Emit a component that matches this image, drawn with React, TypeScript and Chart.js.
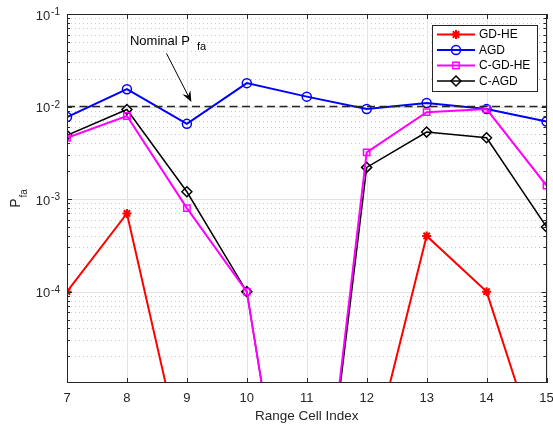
import React, { useEffect, useRef } from "react";
import { Chart, registerables } from "chart.js";

Chart.register(...registerables);

// ---------- data ----------
const rangeCells = [7, 8, 9, 10, 11, 12, 13, 14, 15];
const gdHe = [1e-4, 7e-4, 1e-6, 1e-6, 1e-6, 1e-6, 4e-4, 1e-4, 1e-6];
const agd = [7.7e-3, 1.54e-2, 6.5e-3, 1.79e-2, 1.28e-2, 9.4e-3, 1.09e-2, 9.4e-3, 6.9e-3];
const cGdHe = [4.6e-3, 7.9e-3, 8.0e-4, 1e-4, 1e-8, 3.2e-3, 8.7e-3, 9.4e-3, 1.4e-3];
const cAgd = [4.9e-3, 9.3e-3, 1.2e-3, 1e-4, 1e-8, 2.2e-3, 5.3e-3, 4.6e-3, 5e-4];

const seriesLabels = ["GD-HE", "AGD", "C-GD-HE", "C-AGD"];
const seriesColors = ["#ff0000", "#0000ff", "#ff00ff", "#000000"];
const seriesMarkers = ["star", "circle", "rect", "rectRot"];
const seriesValues = [gdHe, agd, cGdHe, cAgd];
const seriesDrawOrder = [4, 3, 1, 2];

const nominalPfa = 1e-2;
const xMin = 7;
const xMax = 15;
const yMin = 1.03e-5;
const yMax = 1e-1;
const xTickValues = [7, 8, 9, 10, 11, 12, 13, 14, 15];
const yDecadeExponents = [-5, -4, -3, -2, -1];

const annotTextAt = { x: 8.05, y: 0.0457 };
const arrowFrom = { x: 8.66, y: 0.0375 };
const arrowTo = { x: 9.075, y: 0.0112 };

// ---------- styling ----------
const FONT = '"Liberation Sans", Arial, Helvetica, sans-serif';
const AXIS = "#262626";

function drawMarker(ctx: CanvasRenderingContext2D, style: string, x: number, y: number, r: number, color: string, lw: number) {
  ctx.save();
  ctx.strokeStyle = color;
  ctx.fillStyle = color;
  ctx.lineWidth = lw;
  ctx.beginPath();
  if (style === "circle") {
    ctx.arc(x, y, r, 0, Math.PI * 2);
  } else if (style === "rect") {
    const s = r * Math.SQRT1_2;
    ctx.rect(x - s, y - s, 2 * s, 2 * s);
  } else if (style === "rectRot") {
    ctx.moveTo(x - r, y);
    ctx.lineTo(x, y + r);
    ctx.lineTo(x + r, y);
    ctx.lineTo(x, y - r);
    ctx.closePath();
  } else if (style === "star") {
    for (let k = 0; k < 4; k++) {
      const a = (k * Math.PI) / 4;
      ctx.moveTo(x - Math.cos(a) * r, y - Math.sin(a) * r);
      ctx.lineTo(x + Math.cos(a) * r, y + Math.sin(a) * r);
    }
  }
  ctx.stroke();
  ctx.restore();
}

const axesPlugin = {
  id: "matlabAxes",
  beforeDatasetsDraw(chart: any) {
    const { ctx, chartArea: a, scales } = chart;
    const x = scales.x;
    const y = scales.y;
    ctx.save();
    // minor dotted grid
    ctx.strokeStyle = "#c8c8c8";
    ctx.lineWidth = 1;
    ctx.setLineDash([1, 3]);
    for (const e of yDecadeExponents) {
      for (let m = 2; m <= 9; m++) {
        const v = m * Math.pow(10, e);
        if (v < yMin || v > yMax) continue;
        const py = Math.round(y.getPixelForValue(v)) + 0.5;
        ctx.beginPath();
        ctx.moveTo(a.left, py);
        ctx.lineTo(a.right, py);
        ctx.stroke();
      }
    }
    ctx.setLineDash([]);
    ctx.strokeStyle = "#e2e2e2";
    for (const e of yDecadeExponents) {
      const v = Math.pow(10, e);
      if (v < yMin || v > yMax) continue;
      const py = Math.round(y.getPixelForValue(v)) + 0.5;
      ctx.beginPath();
      ctx.moveTo(a.left, py);
      ctx.lineTo(a.right, py);
      ctx.stroke();
    }
    for (const t of xTickValues) {
      const px = Math.round(x.getPixelForValue(t)) + 0.5;
      ctx.beginPath();
      ctx.moveTo(px, a.top);
      ctx.lineTo(px, a.bottom);
      ctx.stroke();
    }
    ctx.restore();
  },
  afterDatasetsDraw(chart: any) {
    const { ctx, chartArea: a, scales } = chart;
    const x = scales.x;
    const y = scales.y;
    ctx.save();
    // box
    ctx.strokeStyle = AXIS;
    ctx.lineWidth = 1;
    ctx.strokeRect(Math.round(a.left) + 0.5, Math.round(a.top) + 0.5, Math.round(a.right - a.left) - 1, Math.round(a.bottom - a.top) - 1);
    // y ticks
    ctx.beginPath();
    for (const e of yDecadeExponents) {
      for (let m = 1; m <= 9; m++) {
        const v = m * Math.pow(10, e);
        if (v < yMin || v > yMax) continue;
        const py = Math.round(y.getPixelForValue(v)) + 0.5;
        const len = m === 1 ? 5 : 3;
        ctx.moveTo(a.left, py);
        ctx.lineTo(a.left + len, py);
        ctx.moveTo(a.right, py);
        ctx.lineTo(a.right - len, py);
      }
    }
    for (const t of xTickValues) {
      const px = Math.round(x.getPixelForValue(t)) + 0.5;
      ctx.moveTo(px, a.bottom);
      ctx.lineTo(px, a.bottom - 5);
      ctx.moveTo(px, a.top);
      ctx.lineTo(px, a.top + 5);
    }
    ctx.stroke();

    // x tick labels
    ctx.fillStyle = AXIS;
    ctx.font = `13px ${FONT}`;
    ctx.textAlign = "center";
    ctx.textBaseline = "alphabetic";
    for (const t of xTickValues) {
      ctx.fillText(String(t), x.getPixelForValue(t), a.bottom + 19);
    }
    // y tick labels 10^e
    for (const e of yDecadeExponents) {
      const v = Math.pow(10, e);
      if (v < yMin * 0.999 || v > yMax * 1.001) continue;
      const py = y.getPixelForValue(v);
      ctx.font = `10px ${FONT}`;
      const sup = String(e);
      const supW = ctx.measureText(sup).width;
      const rightEdge = a.left - 7;
      ctx.textAlign = "left";
      ctx.fillText(sup, rightEdge - supW, py + 1);
      ctx.font = `13px ${FONT}`;
      ctx.textAlign = "right";
      ctx.fillText("10", rightEdge - supW - 1, py + 5.5);
    }
    // x title
    ctx.font = `13.5px ${FONT}`;
    ctx.textAlign = "center";
    ctx.fillText("Range Cell Index", (a.left + a.right) / 2, a.bottom + 37);
    // y title P_fa rotated
    ctx.save();
    ctx.font = `14px ${FONT}`;
    const wP = ctx.measureText("P").width;
    ctx.font = `10px ${FONT}`;
    const wFa = ctx.measureText("fa").width;
    const total = wP + 1 + wFa;
    const cy = (a.top + a.bottom) / 2;
    ctx.translate(20, cy + total / 2);
    ctx.rotate(-Math.PI / 2);
    ctx.textAlign = "left";
    ctx.font = `14px ${FONT}`;
    ctx.fillText("P", 0, 0);
    ctx.font = `10px ${FONT}`;
    ctx.fillText("fa", wP + 1, 7);
    ctx.restore();

    // annotation
    ctx.font = `13px ${FONT}`;
    ctx.textAlign = "left";
    ctx.fillStyle = "#000";
    const tx = x.getPixelForValue(annotTextAt.x);
    const ty = y.getPixelForValue(annotTextAt.y);
    ctx.fillText("Nominal P", tx, ty);
    const wNom = ctx.measureText("Nominal P").width;
    ctx.font = `11px ${FONT}`;
    ctx.fillText("fa", tx + wNom + 7, ty + 5);
    // arrow
    const x0 = x.getPixelForValue(arrowFrom.x);
    const y0 = y.getPixelForValue(arrowFrom.y);
    const x1 = x.getPixelForValue(arrowTo.x);
    const y1 = y.getPixelForValue(arrowTo.y);
    const ang = Math.atan2(y1 - y0, x1 - x0);
    ctx.strokeStyle = "#000";
    ctx.lineWidth = 1;
    ctx.beginPath();
    ctx.moveTo(x0, y0);
    ctx.lineTo(x1 - Math.cos(ang) * 6, y1 - Math.sin(ang) * 6);
    ctx.stroke();
    const hl = 11, hw = 4.5, notch = 7;
    const bx = x1 - Math.cos(ang) * hl;
    const by = y1 - Math.sin(ang) * hl;
    const nx = -Math.sin(ang), ny = Math.cos(ang);
    ctx.fillStyle = "#000";
    ctx.beginPath();
    ctx.moveTo(x1, y1);
    ctx.lineTo(bx + nx * hw, by + ny * hw);
    ctx.lineTo(x1 - Math.cos(ang) * notch, y1 - Math.sin(ang) * notch);
    ctx.lineTo(bx - nx * hw, by - ny * hw);
    ctx.closePath();
    ctx.fill();

    // legend
    const lx = 432, ly = 25, lw = 105, lh = 66;
    ctx.fillStyle = "#ffffff";
    ctx.fillRect(lx, ly, lw, lh);
    ctx.strokeStyle = AXIS;
    ctx.lineWidth = 1;
    ctx.strokeRect(lx + 0.5, ly + 0.5, lw, lh);
    const dsList = chart.data.datasets.filter((d: any) => !d.hideInLegend);
    dsList.forEach((d: any, i: number) => {
      const ry = ly + 9.5 + i * 15.5;
      ctx.strokeStyle = d.borderColor;
      ctx.lineWidth = d.borderWidth;
      ctx.beginPath();
      ctx.moveTo(lx + 5, ry);
      ctx.lineTo(lx + 43, ry);
      ctx.stroke();
      drawMarker(ctx, d.pointStyle, lx + 24, ry, d.pointRadius, d.borderColor, d.pointBorderWidth);
      ctx.fillStyle = "#000";
      ctx.font = `12px ${FONT}`;
      ctx.textAlign = "left";
      ctx.textBaseline = "middle";
      ctx.fillText(d.label, lx + 47, ry + 0.5);
    });
    ctx.restore();
  },
};

export default function App() {
  const canvasRef = useRef<HTMLCanvasElement | null>(null);

  useEffect(() => {
    if (!canvasRef.current) return;
    const radii = [4.5, 4.5, 4.5, 5];
    const widths = [2, 2, 2, 1.5];
    const datasets: any[] = seriesLabels.map((label, i) => ({
      label,
      data: rangeCells.map((c, j) => ({ x: c, y: seriesValues[i][j] })),
      borderColor: seriesColors[i],
      backgroundColor: seriesColors[i],
      borderWidth: widths[i],
      pointStyle: seriesMarkers[i],
      pointRadius: radii[i],
      pointBorderWidth: i === 0 ? 2 : 1.5,
      pointBorderColor: seriesColors[i],
      pointBackgroundColor: "rgba(0,0,0,0)",
      tension: 0,
      order: seriesDrawOrder[i],
    }));
    datasets.push({
      label: "Nominal",
      hideInLegend: true,
      data: [
        { x: xMin, y: nominalPfa },
        { x: xMax, y: nominalPfa },
      ],
      borderColor: "#262626",
      borderWidth: 1.5,
      borderDash: [8, 4.5],
      pointRadius: 0,
      order: 0,
    });
    const chart = new Chart(canvasRef.current, {
      type: "line",
      data: { datasets },
      options: {
        animation: false,
        responsive: false,
        devicePixelRatio: 1,
        events: [],
        layout: { padding: { left: 67, right: 5, top: 14, bottom: 42 } },
        scales: {
          x: { type: "linear", min: xMin, max: xMax, display: false },
          y: { type: "logarithmic", min: yMin, max: yMax, display: false },
        },
        plugins: { legend: { display: false }, tooltip: { enabled: false } },
      },
      plugins: [axesPlugin],
    } as any);
    return () => chart.destroy();
  }, []);

  return (
    <div style={{ position: "fixed", left: 0, top: 0, width: 553, height: 425, background: "#fff" }}>
      <canvas ref={canvasRef} width={553} height={425} />
    </div>
  );
}
